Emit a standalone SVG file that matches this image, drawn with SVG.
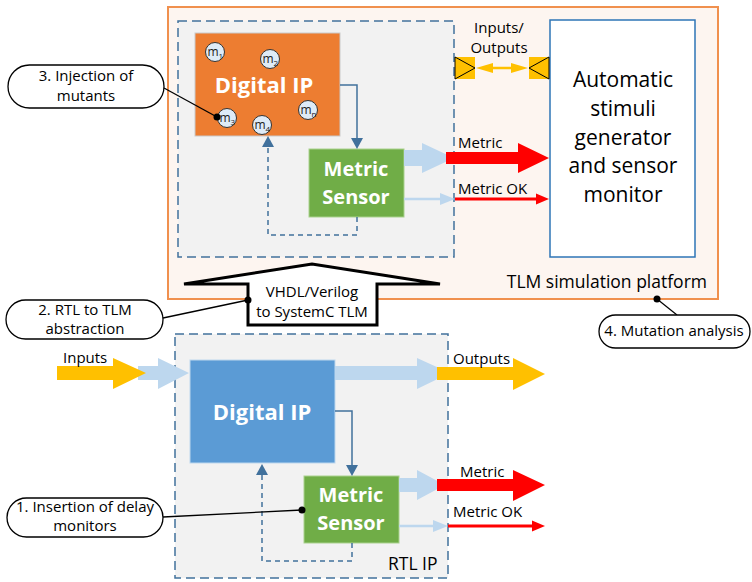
<svg xmlns="http://www.w3.org/2000/svg" width="752" height="582" viewBox="0 0 752 582">
<style>
text{font-family:"Open Sans","Liberation Sans",Arial,sans-serif;fill:#000}
.lbl{font-size:15px}
.big{font-size:17.5px}
.wb{font-weight:bold;fill:#fff}
.dash{fill:#F2F2F2;stroke:#41719C;stroke-width:1.5;stroke-dasharray:9,5}
.link{fill:none;stroke:#41719C;stroke-width:1.5}
.dlink{fill:none;stroke:#41719C;stroke-width:1.5;stroke-dasharray:5,4}
.head{fill:#41719C}
.lb{fill:#BDD7EE}
.yl{fill:#FFC000}
.rd{fill:#FF0000}
.pill{fill:#fff;stroke:#000;stroke-width:1.3}
.cl{stroke:#000;stroke-width:1.3;fill:none}
.mc{fill:#DEEBF7;stroke:#333;stroke-width:1}
.mt{font-size:12px;fill:#222}
</style>

<!-- TLM platform -->
<g id="tlm-platform">
<rect x="168" y="7" width="550" height="292" fill="#FDF5F0" stroke="#F0904E" stroke-width="2"/>
<text class="big" x="707" y="288" text-anchor="end">TLM simulation platform</text>
</g>

<g id="tlm-ip-box">
<rect class="dash" x="178" y="21" width="276" height="236"/>
</g>

<g id="tlm-digital-ip">
<rect x="195" y="33" width="145" height="103" fill="#ED7D31" stroke="#C9C9C9" stroke-width="1"/>
<text class="wb" x="264" y="93" font-size="22" text-anchor="middle">Digital IP</text>
<g id="m1"><circle class="mc" cx="215" cy="52" r="9.5"/><text class="mt" x="207.5" y="56">m<tspan font-size="8" dy="3">1</tspan></text></g>
<g id="m2"><circle class="mc" cx="270" cy="59" r="9.5"/><text class="mt" x="262.5" y="63">m<tspan font-size="8" dy="3">2</tspan></text></g>
<g id="mn"><circle class="mc" cx="308" cy="110" r="9.5"/><text class="mt" x="300.5" y="114">m<tspan font-size="8" dy="3">n</tspan></text></g>
<g id="m3"><circle class="mc" cx="227" cy="118" r="9.5"/><text class="mt" x="219.5" y="122">m<tspan font-size="8" dy="3">3</tspan></text></g>
<g id="m4"><circle class="mc" cx="262" cy="125" r="9.5"/><text class="mt" x="254.5" y="129">m<tspan font-size="8" dy="3">4</tspan></text></g>
</g>

<g id="tlm-metric-sensor">
<rect x="309" y="149" width="95" height="68" fill="#70AD47" stroke="#A9D18E" stroke-width="1"/>
<text class="wb" x="356" y="176" font-size="20" text-anchor="middle">Metric</text>
<text class="wb" x="356" y="204" font-size="20" text-anchor="middle">Sensor</text>
</g>

<g id="stimuli-generator">
<rect x="550" y="20" width="145" height="237" fill="#fff" stroke="#2E75B6" stroke-width="1.5"/>
<text x="623" y="87" font-size="21" text-anchor="middle">Automatic</text>
<text x="623" y="116" font-size="21" text-anchor="middle">stimuli</text>
<text x="623" y="145" font-size="21" text-anchor="middle">generator</text>
<text x="623" y="173" font-size="21" text-anchor="middle">and sensor</text>
<text x="623" y="202" font-size="21" text-anchor="middle">monitor</text>
</g>

<!-- RTL -->
<g id="rtl-ip-box">
<rect class="dash" x="175" y="334" width="273" height="244"/>
<text class="big" x="388" y="570">RTL IP</text>
</g>

<g id="rtl-digital-ip">
<rect x="190" y="360" width="145" height="103" fill="#5B9BD5" stroke="#BDD7EE" stroke-width="1"/>
<text class="wb" x="262" y="420" font-size="22" text-anchor="middle">Digital IP</text>
</g>

<g id="rtl-metric-sensor">
<rect x="304" y="476" width="95" height="67" fill="#70AD47" stroke="#A9D18E" stroke-width="1"/>
<text class="wb" x="351" y="502" font-size="20" text-anchor="middle">Metric</text>
<text class="wb" x="351" y="530" font-size="20" text-anchor="middle">Sensor</text>
</g>

<g id="abstraction-arrow">
<polygon points="248,325 248,284 184,284 312,264 440,284 377,284 377,325" fill="#fff" stroke="#000" stroke-width="3" stroke-linejoin="miter"/>
<text class="lbl" x="312" y="297" text-anchor="middle">VHDL/Verilog</text>
<text class="lbl" x="312" y="317" text-anchor="middle">to SystemC TLM</text>
</g>

<!-- connectors -->
<g id="connectors">
<polyline class="link" points="340,85 357,85 357,140"/>
<polygon class="head" points="351,138 363,138 357,149"/>
<polyline class="dlink" points="357,217 357,235 268,235 268,146"/>
<polygon class="head" points="262,147 274,147 268,136"/>

<polygon class="lb" points="404,150 422,150 422,143 454,158 422,173 422,166 404,166"/>
<polygon class="rd" points="446,152 518,152 518,143 549,158 518,173 518,164 446,164"/>
<text class="lbl" x="458" y="148">Metric</text>
<line x1="404" y1="199" x2="441" y2="199" stroke="#BDD7EE" stroke-width="2.5"/>
<polygon class="lb" points="440,193 455,199 440,205"/>
<line x1="455" y1="199" x2="537" y2="199" stroke="#FF0000" stroke-width="3"/>
<polygon class="rd" points="536,193.5 549,199 536,204.5"/>
<text class="lbl" x="458" y="194">Metric OK</text>

<rect class="yl" x="455" y="57" width="20" height="22"/>
<rect class="yl" x="529" y="57" width="20" height="22"/>
<polyline points="455,57 475,68 455,79 455,57" fill="none" stroke="#000" stroke-width="1"/>
<polyline points="549,57 529,68 549,79 549,57" fill="none" stroke="#000" stroke-width="1"/>
<line x1="486" y1="68" x2="518" y2="68" stroke="#FFC000" stroke-width="2.5"/>
<polygon class="yl" points="476,68 493,63 493,73"/>
<polygon class="yl" points="528,68 511,63 511,73"/>
<text class="lbl" x="499" y="33" text-anchor="middle">Inputs/</text>
<text class="lbl" x="499" y="53" text-anchor="middle">Outputs</text>

<polyline class="link" points="335,411 352,411 352,467"/>
<polygon class="head" points="346,465 358,465 352,476"/>
<polyline class="dlink" points="352,543 352,561 262,561 262,474"/>
<polygon class="head" points="256,475 268,475 262,464"/>

<polygon class="lb" points="138,366 158,366 158,358 189,373 158,389 158,380 138,380"/>
<polygon class="yl" points="57,366 113,366 113,358 146,373 113,389 113,380 57,380"/>
<text class="lbl" x="63" y="363">Inputs</text>

<polygon class="lb" points="335,366 417,366 417,358 450,373 417,389 417,380 335,380"/>
<polygon class="yl" points="437,367 513,367 513,358 545,374 513,390 513,380 437,380"/>
<text class="lbl" x="453" y="364">Outputs</text>

<polygon class="lb" points="399,478 417,478 417,470 445,485 417,500 417,492 399,492"/>
<polygon class="rd" points="437,479 513,479 513,470 545,485 513,501 513,491 437,491"/>
<text class="lbl" x="460" y="477">Metric</text>
<line x1="399" y1="526" x2="434" y2="526" stroke="#BDD7EE" stroke-width="2.5"/>
<polygon class="lb" points="433,520 448,526 433,532"/>
<line x1="448" y1="526" x2="533" y2="526" stroke="#FF0000" stroke-width="3"/>
<polygon class="rd" points="532,520.5 545,526 532,531.5"/>
<text class="lbl" x="453" y="517">Metric OK</text>

<line class="cl" x1="164" y1="88" x2="217" y2="117"/>
<circle cx="217" cy="117" r="3.5"/>
<line class="cl" x1="163" y1="318" x2="248" y2="300"/>
<circle cx="248" cy="300" r="3.5"/>
<line class="cl" x1="163" y1="517" x2="302" y2="510"/>
<circle cx="302" cy="510" r="3.5"/>
<line class="cl" x1="657" y1="299" x2="677" y2="315"/>
<circle cx="657" cy="299" r="3.5"/>
</g>

<g id="callout-3">
<rect class="pill" x="8" y="65" width="156" height="43" rx="21.5"/>
<text class="lbl" x="86" y="81" text-anchor="middle">3. Injection of</text>
<text class="lbl" x="86" y="101" text-anchor="middle">mutants</text>
</g>
<g id="callout-2">
<rect class="pill" x="6" y="300" width="157" height="39" rx="19.5"/>
<text class="lbl" x="85" y="315" text-anchor="middle">2. RTL to TLM</text>
<text class="lbl" x="85" y="334" text-anchor="middle">abstraction</text>
</g>
<g id="callout-1">
<rect class="pill" x="7" y="498" width="156" height="39" rx="19.5"/>
<text class="lbl" x="85" y="512" text-anchor="middle">1. Insertion of delay</text>
<text class="lbl" x="85" y="531" text-anchor="middle">monitors</text>
</g>
<g id="callout-4">
<rect class="pill" x="599" y="315" width="151" height="33" rx="16.5"/>
<text class="lbl" x="674" y="336" text-anchor="middle">4. Mutation analysis</text>
</g>
</svg>
